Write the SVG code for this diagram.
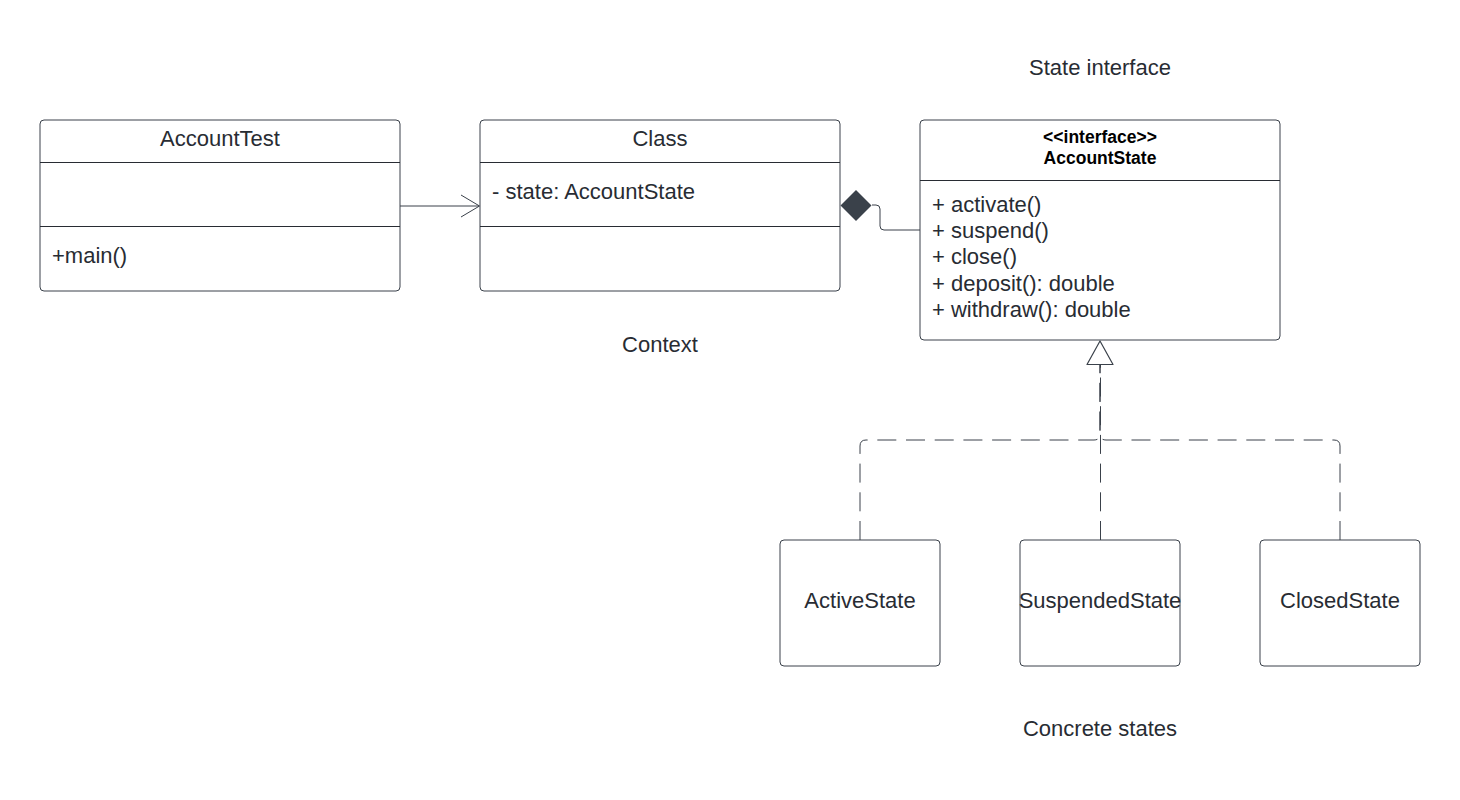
<svg xmlns="http://www.w3.org/2000/svg" width="1460" height="800" viewBox="0 0 1460 800">
<style>
.box{fill:#ffffff;stroke:#3a414a;stroke-width:1}
.div{stroke:#282c33;stroke-width:1;fill:none}
.t{font-family:"Liberation Sans",Arial,sans-serif;font-size:22px;fill:#282c33}
.c{text-anchor:middle}
.b{font-family:"Liberation Sans",Arial,sans-serif;font-size:17.5px;font-weight:bold;fill:#000000;text-anchor:middle}
.ln{stroke:#3a414a;stroke-width:1;fill:none}
.dash{stroke:#3a414a;stroke-width:1;fill:none;stroke-dasharray:19 9.7}
</style>
<rect width="1460" height="800" fill="#ffffff"/>
<g id="labels">
<text class="t c" x="1100" y="75">State interface</text>
<text class="t c" x="660" y="352">Context</text>
<text class="t c" x="1100" y="736">Concrete states</text>
</g>
<g id="AccountTest">
<rect class="box" x="40" y="120" width="360" height="171" rx="4"/>
<line class="div" x1="40" y1="162.5" x2="400" y2="162.5"/>
<line class="div" x1="40" y1="226.5" x2="400" y2="226.5"/>
<text class="t c" x="220" y="146">AccountTest</text>
<text class="t" x="52" y="263">+main()</text>
</g>
<g id="Class">
<rect class="box" x="480" y="120" width="360" height="171" rx="4"/>
<line class="div" x1="480" y1="162.5" x2="840" y2="162.5"/>
<line class="div" x1="480" y1="226.5" x2="840" y2="226.5"/>
<text class="t c" x="660" y="146">Class</text>
<text class="t" x="492" y="199">- state: AccountState</text>
</g>
<g id="AccountState">
<rect class="box" x="920" y="120" width="360" height="220" rx="4"/>
<line class="div" x1="920" y1="180.5" x2="1280" y2="180.5"/>
<text class="b" x="1100" y="143">&lt;&lt;interface&gt;&gt;</text>
<text class="b" x="1100" y="164">AccountState</text>
<text class="t" x="932" y="211.5">+ activate()</text>
<text class="t" x="932" y="238">+ suspend()</text>
<text class="t" x="932" y="264">+ close()</text>
<text class="t" x="932" y="290.5">+ deposit(): double</text>
<text class="t" x="932" y="317">+ withdraw(): double</text>
</g>
<g id="ActiveState">
<rect class="box" x="780" y="540" width="160" height="126" rx="4"/>
<text class="t c" x="860" y="608">ActiveState</text>
</g>
<g id="SuspendedState">
<rect class="box" x="1020" y="540" width="160" height="126" rx="4"/>
<text class="t c" x="1100" y="608">SuspendedState</text>
</g>
<g id="ClosedState">
<rect class="box" x="1260" y="540" width="160" height="126" rx="4"/>
<text class="t c" x="1340" y="608">ClosedState</text>
</g>
<g id="connectors">
<line class="ln" x1="400" y1="206" x2="479" y2="206"/>
<polyline class="ln" points="461,195 479.5,206 461,217"/>
<path class="ln" d="M872,205 H876 Q880,205 880,209 V226 Q880,230 884,230 H920"/>
<polygon points="856,190 871.5,205.5 856,221 840.5,205.5" fill="#3a414a"/>
<path class="dash" d="M860,540 V446 Q860,440 866,440 H1094 Q1100,440 1100,434 V365"/>
<path class="dash" d="M1340,540 V446 Q1340,440 1334,440 H1106 Q1100,440 1100,434 V365"/>
<path class="dash" d="M1100.5,540 V365"/>
<polygon points="1100,341 1113,364.5 1087,364.5" fill="#ffffff" stroke="#3a414a" stroke-width="1.2" stroke-linejoin="round"/>
</g>
</svg>
